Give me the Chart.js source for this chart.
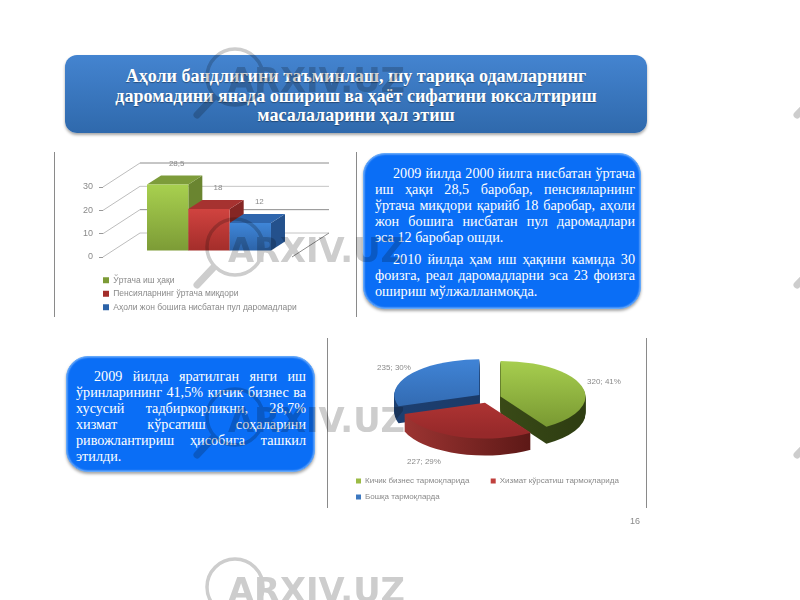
<!DOCTYPE html>
<html>
<head>
<meta charset="utf-8">
<script src="https://cdn.jsdelivr.net/npm/chart.js@4/dist/chart.umd.min.js"></script>
<style>
  html, body { margin: 0; padding: 0; background: #fff; width: 800px; height: 600px; overflow: hidden; }
  .abs { position: absolute; }
  .rule { position: absolute; width: 1px; background: #8a8a8a; }
  #title {
    left: 65px; top: 55px; width: 582px; height: 78px; border-radius: 12px;
    background: linear-gradient(#4484d0, #2f69ac);
    box-shadow: 0 2px 3px rgba(0,0,0,.35);
    color: #fff; font: bold 18px/19.5px "Liberation Serif", serif; text-align: center;
    text-shadow: 0 1px 1px rgba(0,0,0,.35);
    box-sizing: border-box; padding-top: 12px;
  }
  .box {
    position: absolute; box-sizing: border-box; background: #0a6ef6; border-radius: 22px;
    border: 1px solid #62a8fb;
    box-shadow: 0 2px 3px rgba(0,0,0,.35), inset 0 0 2px #dcecff;
    color: #fff; font: 14.2px/16px "Liberation Serif", serif;
  }
  .box div { text-align: justify; text-align-last: justify; }
  .box div.end { text-align-last: left; }
  .box div.first { text-indent: 18px; }
  #page { left: 630px; top: 516px; font: 9px "Liberation Sans", sans-serif; color: #8a8a8a; }
  canvas { filter: blur(0.5px); }
  #mark { left: 0; top: 0; mix-blend-mode: multiply; pointer-events: none; }
</style>
</head>
<body>
<div class="rule" style="left:54px;top:152px;height:165px"></div>
<div class="rule" style="left:356px;top:152px;height:165px"></div>
<div class="rule" style="left:327px;top:338px;height:170px"></div>
<div class="rule" style="left:646px;top:338px;height:170px"></div>

<div class="abs" style="left:55px;top:152px;width:301px;height:164px"><canvas id="barChart"></canvas></div>
<div class="abs" style="left:328px;top:327px;width:318px;height:188px"><canvas id="pieChart"></canvas></div>

<div id="title" class="abs">Аҳоли бандлигини таъминлаш, шу тариқа одамларнинг<br>даромадини янада ошириш ва ҳаёт сифатини юксалтириш<br>масалаларини ҳал этиш</div>

<div class="box" style="left:363px;top:153px;width:278px;height:156px;padding:11px 5px 0 11px">
  <div class="first">2009 йилда 2000 йилга нисбатан ўртача</div>
  <div>иш ҳақи 28,5 баробар, пенсияларнинг</div>
  <div>ўртача миқдори қарийб 18 баробар, аҳоли</div>
  <div>жон бошига нисбатан пул даромадлари</div>
  <div class="end">эса 12 баробар ошди.</div>
  <div class="first" style="margin-top:6px">2010 йилда ҳам иш ҳақини камида 30</div>
  <div>фоизга, реал даромадларни эса 23 фоизга</div>
  <div class="end">ошириш мўлжалланмоқда.</div>
</div>

<div class="box" style="left:66px;top:356px;width:249px;height:116px;padding:11px 8px 0 9px">
  <div class="first">2009 йилда яратилган янги иш</div>
  <div>ўринларининг 41,5% кичик бизнес ва</div>
  <div>хусусий тадбиркорликни, 28,7%</div>
  <div>хизмат кўрсатиш соҳаларини</div>
  <div>ривожлантириш ҳисобига ташкил</div>
  <div class="end">этилди.</div>
</div>

<div id="page" class="abs">16</div>
<svg id="mark" class="abs" width="800" height="600"></svg>

<script>
const barSeries = ['Ўртача иш ҳақи', 'Пенсияларнинг ўртача миқдори', 'Аҳоли жон бошига нисбатан пул даромадлари'];
const barValues = [28.5, 18, 12];
const barFront = [['#a8d04f', '#7c9b36'], ['#d0433f', '#a32d2a'], ['#3f86d8', '#2c63a8']];
const barTop = ['#7d9c3a', '#a63230', '#2f66ad'];
const barSide = ['#6a8530', '#852624', '#24518c'];
const yTicks = [0, 10, 20, 30];

const pieCategories = ['Кичик бизнес тармоқларида', 'Хизмат кўрсатиш тармоқларида', 'Бошқа тармоқларда'];
const pieValues = [320, 227, 235];
const piePercents = [41, 29, 30];
const pieTop = [['#a6cd4e', '#74932f'], ['#cc413e', '#96292a'], ['#3f82d4', '#2b5d9d']];
const pieDepth = [['#46591d', '#2f3e12'], ['#9c3432', '#470f0d'], ['#1d3f70', '#17335c']];

const textColor = '#8a8a8a';
const font = 'Liberation Sans';

// 3d look for the bars: walls behind, top and side faces from the bar elements
const wallDx = 37, wallDy = -24;
const barDx = 14, barDy = -9;
const shiftX = 11.5, shiftY = -6;

function drawWalls(chart) {
  const { ctx, chartArea } = chart;
  const y = chart.scales.y;
  ctx.save();
  ctx.lineWidth = 1;
  yTicks.forEach((t, i) => {
    const py = y.getPixelForValue(t);
    ctx.strokeStyle = '#bdbdbd';
    ctx.beginPath();
    ctx.moveTo(chartArea.left, py);
    ctx.lineTo(chartArea.left + wallDx, py + wallDy);
    ctx.stroke();
    ctx.strokeStyle = i % 2 ? '#8c8c8c' : '#c4c4c4';
    ctx.beginPath();
    ctx.moveTo(chartArea.left + wallDx, py + wallDy);
    ctx.lineTo(chartArea.right + wallDx, py + wallDy);
    ctx.stroke();
  });
  const y0 = y.getPixelForValue(0);
  ctx.strokeStyle = '#8c8c8c';
  ctx.beginPath();
  ctx.moveTo(chartArea.right, y0);
  ctx.lineTo(chartArea.right + wallDx, y0 + wallDy);
  ctx.stroke();
  ctx.restore();
}

function drawFaces(ctx, b, i) {
  const l = b.x - b.width / 2, r = b.x + b.width / 2;
  ctx.fillStyle = barSide[i];
  ctx.beginPath();
  ctx.moveTo(r, b.y);
  ctx.lineTo(r + barDx, b.y + barDy);
  ctx.lineTo(r + barDx, b.base + barDy);
  ctx.lineTo(r, b.base);
  ctx.closePath();
  ctx.fill();
  ctx.fillStyle = barTop[i];
  ctx.beginPath();
  ctx.moveTo(l, b.y);
  ctx.lineTo(r, b.y);
  ctx.lineTo(r + barDx, b.y + barDy);
  ctx.lineTo(l + barDx, b.y + barDy);
  ctx.closePath();
  ctx.fill();
}

// bars go left to right so each one overlaps the side of the previous
const bars3d = {
  id: 'bars3d',
  beforeDatasetsDraw(chart) {
    const { ctx } = chart;
    drawWalls(chart);
    ctx.save();
    ctx.translate(shiftX, shiftY);
    chart.data.datasets.forEach((ds, i) => {
      const b = chart.getDatasetMeta(i).data[0];
      drawFaces(ctx, b, i);
      b.draw(ctx);
    });
    ctx.restore();
    ctx.fillStyle = textColor;
    ctx.font = `8px "${font}"`;
    ctx.textAlign = 'center';
    chart.data.datasets.forEach((ds, i) => {
      const b = chart.getDatasetMeta(i).data[0];
      ctx.fillText(String(ds.data[0]).replace('.', ','), b.x + shiftX + 9, b.y + shiftY - 19);
    });
    return false;
  }
};

// legend sits under the plot, left aligned to the axis
const moveLegend = {
  id: 'moveLegend',
  afterLayout(chart) {
    const lg = chart.legend;
    lg.left = 43;
    lg.right = 300;
    lg.top = 119;
    lg.bottom = 200;
  }
};

new Chart(document.getElementById('barChart'), {
  type: 'bar',
  data: {
    labels: [''],
    datasets: barSeries.map((name, i) => ({
      label: name,
      data: [barValues[i]],
      backgroundColor: ctx => {
        const a = ctx.chart.chartArea;
        if (!a) return barFront[i][0];
        const g = ctx.chart.ctx.createLinearGradient(0, ctx.chart.scales.y.getPixelForValue(barValues[i]), 0, a.bottom);
        g.addColorStop(0, barFront[i][0]);
        g.addColorStop(1, barFront[i][1]);
        return g;
      }
    }))
  },
  options: {
    responsive: true,
    maintainAspectRatio: false,
    animation: false,
    layout: { padding: { top: 35, right: 64, bottom: 59, left: 0 } },
    categoryPercentage: 0.656,
    barPercentage: 1,
    scales: {
      x: { display: false },
      y: {
        min: 0,
        max: 30,
        afterFit(scale) { scale.width = 48; },
        grid: { drawOnChartArea: false, color: '#999', tickLength: 4, drawTicks: true },
        border: { display: false },
        ticks: { stepSize: 10, padding: 6, color: textColor, font: { family: font, size: 9 } }
      }
    },
    plugins: {
      tooltip: { enabled: false },
      legend: {
        position: 'chartArea',
        align: 'start',
        labels: { boxWidth: 6, boxHeight: 6, padding: 5, color: textColor, font: { family: font, size: 8.5 } }
      }
    }
  },
  plugins: [bars3d, moveLegend]
});

// 3d pie: the arcs keep the library's geometry, drawn squashed with a rim under them
const squash = 0.42, rim = 17;
const drawOrder = [2, 0, 1];
const pieLabelPos = [[115, -16], [-65, 64], [-95, -30]];

function wedge(ctx, a, o) {
  const mid = (a.startAngle + a.endAngle) / 2;
  const px = a.x + Math.cos(mid) * o, py = a.y + Math.sin(mid) * o;
  ctx.beginPath();
  ctx.moveTo(px, py);
  ctx.arc(px, py, a.outerRadius, a.startAngle, a.endAngle);
  ctx.closePath();
}

const pie3d = {
  id: 'pie3d',
  beforeDatasetDraw(chart, args) {
    const { ctx } = chart;
    const arcs = args.meta.data;
    const cx = arcs[0].x, cy = arcs[0].y, R = arcs[0].outerRadius;
    drawOrder.forEach(i => {
      const a = arcs[i];
      const o = a.options.offset;
      const side = ctx.createLinearGradient(cx - R, 0, cx + R, 0);
      side.addColorStop(0, pieDepth[i][0]);
      side.addColorStop(1, pieDepth[i][1]);
      for (let d = rim; d >= 0; d--) {
        ctx.save();
        ctx.translate(cx, cy + d);
        ctx.scale(1, squash);
        ctx.translate(-cx, -cy);
        if (d === 0) {
          const g = ctx.createLinearGradient(0, cy - R, 0, cy + R);
          g.addColorStop(0, pieTop[i][0]);
          g.addColorStop(1, pieTop[i][1]);
          ctx.fillStyle = g;
        } else {
          ctx.fillStyle = side;
        }
        wedge(ctx, a, o);
        ctx.fill();
        ctx.restore();
      }
    });
    return false;
  },
  afterDatasetsDraw(chart) {
    const { ctx } = chart;
    const arcs = chart.getDatasetMeta(0).data;
    ctx.fillStyle = textColor;
    ctx.font = `8px "${font}"`;
    ctx.textAlign = 'center';
    pieValues.forEach((v, i) => {
      ctx.fillText(`${v}; ${piePercents[i]}%`, arcs[0].x + pieLabelPos[i][0], arcs[0].y + pieLabelPos[i][1]);
    });
  }
};

new Chart(document.getElementById('pieChart'), {
  type: 'pie',
  data: {
    labels: pieCategories,
    datasets: [{
      data: pieValues,
      backgroundColor: ['#9bbb45', '#c0403d', '#3c78c0'],
      borderWidth: 0,
      offset: 12,
      radius: 85
    }]
  },
  options: {
    responsive: true,
    maintainAspectRatio: false,
    animation: false,
    layout: { padding: { top: 0, right: 16, bottom: 4, left: 20 } },
    plugins: {
      tooltip: { enabled: false },
      legend: {
        position: 'bottom',
        align: 'start',
        labels: {
          boxWidth: 5,
          boxHeight: 5,
          padding: 8,
          color: textColor,
          font: { family: font, size: 8 },
          generateLabels(chart) {
            // wider gap after the first entry, as in the two column legend of the slide
            const items = Chart.controllers.pie.overrides.plugins.legend.labels.generateLabels(chart);
            items[0].text += '\u00a0\u00a0\u00a0\u00a0\u00a0\u00a0';
            return items;
          }
        }
      }
    }
  },
  plugins: [pie3d]
});

// watermark repeated over the slide
const markRows = [0, 170, 340, 510];
const markCols = [0, 600];
let marks = '';
markCols.forEach(c => markRows.forEach(r => {
  marks += `<g transform="translate(${c},${r})" fill="none" stroke="#cdcdcd">
    <circle cx="235" cy="77" r="28" stroke-width="3.5"/>
    <line x1="213" y1="98" x2="197" y2="115" stroke-width="7" stroke-linecap="round"/>
    <text x="228" y="92" fill="#cdcdcd" stroke="none" font-family="DejaVu Sans" font-weight="bold" font-size="34" textLength="177" lengthAdjust="spacingAndGlyphs">ARXIV.UZ</text>
  </g>`;
}));
document.getElementById('mark').innerHTML = marks;
</script>
</body>
</html>
